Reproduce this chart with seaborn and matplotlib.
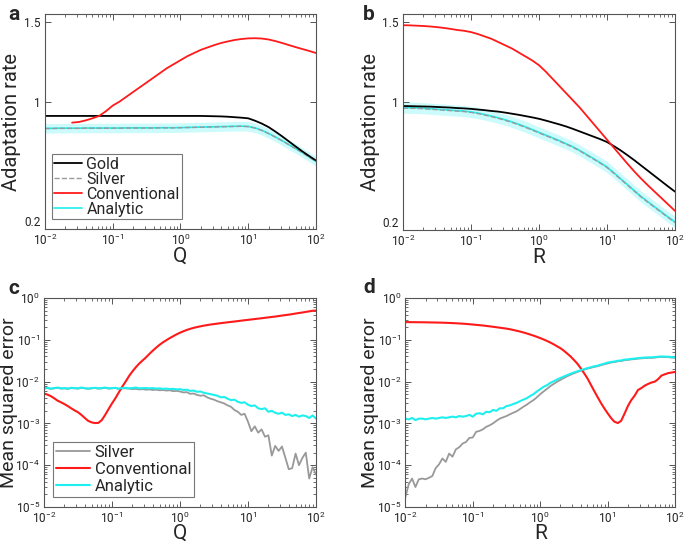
import numpy as np
import matplotlib.pyplot as plt
import seaborn as sns
from matplotlib.ticker import LogLocator, NullFormatter, NullLocator

# parameter sweeps (Q or R), log-spaced
grid_ab = np.logspace(-2, 2, 41)
grid_cd = np.logspace(-2, 2, 81)

# ---- panel a: adaptation rate vs Q ----
gold_a = [0.910, 0.910, 0.910, 0.910, 0.910, 0.910, 0.910, 0.910, 0.910, 0.910,
          0.910, 0.910, 0.910, 0.910, 0.910, 0.910, 0.910, 0.910, 0.910, 0.910,
          0.910, 0.910, 0.910, 0.910, 0.909, 0.908, 0.907, 0.905, 0.902, 0.899,
          0.895, 0.880, 0.862, 0.840, 0.812, 0.782, 0.750, 0.718, 0.687, 0.658,
          0.630]
analytic_a = [0.832, 0.832, 0.833, 0.833, 0.833, 0.833, 0.834, 0.834, 0.834, 0.834,
              0.834, 0.834, 0.835, 0.835, 0.835, 0.835, 0.835, 0.836, 0.836, 0.836,
              0.837, 0.838, 0.839, 0.840, 0.841, 0.842, 0.843, 0.844, 0.845, 0.846,
              0.844, 0.835, 0.820, 0.800, 0.778, 0.755, 0.730, 0.705, 0.680, 0.652,
              0.625]
silver_a = [0.831, 0.831, 0.832, 0.832, 0.832, 0.832, 0.833, 0.833, 0.833, 0.833,
            0.833, 0.833, 0.834, 0.834, 0.834, 0.834, 0.834, 0.835, 0.835, 0.835,
            0.836, 0.837, 0.838, 0.839, 0.840, 0.841, 0.842, 0.843, 0.844, 0.845,
            0.843, 0.834, 0.819, 0.799, 0.777, 0.754, 0.729, 0.704, 0.679, 0.651,
            0.624]
conv_a = [np.nan, np.nan, np.nan, np.nan, 0.868, 0.872, 0.882, 0.895, 0.910, 0.940,
          0.975, 1.000, 1.030, 1.060, 1.090, 1.120, 1.150, 1.180, 1.210, 1.235,
          1.260, 1.285, 1.305, 1.325, 1.340, 1.355, 1.368, 1.378, 1.387, 1.393,
          1.397, 1.398, 1.396, 1.390, 1.380, 1.368, 1.355, 1.342, 1.330, 1.318,
          1.305]
band_a = 0.03

# ---- panel b: adaptation rate vs R ----
gold_b = [0.975, 0.974, 0.973, 0.972, 0.971, 0.969, 0.967, 0.965, 0.962, 0.960,
          0.957, 0.953, 0.949, 0.944, 0.940, 0.934, 0.927, 0.920, 0.912, 0.904,
          0.895, 0.884, 0.872, 0.860, 0.847, 0.832, 0.816, 0.800, 0.784, 0.768,
          0.750, 0.725, 0.698, 0.668, 0.637, 0.604, 0.571, 0.538, 0.505, 0.472,
          0.440]
analytic_b = [0.965, 0.964, 0.963, 0.961, 0.958, 0.955, 0.952, 0.949, 0.946, 0.943,
              0.938, 0.931, 0.922, 0.912, 0.901, 0.889, 0.876, 0.861, 0.845, 0.828,
              0.810, 0.793, 0.776, 0.758, 0.739, 0.720, 0.697, 0.672, 0.647, 0.621,
              0.594, 0.558, 0.521, 0.484, 0.447, 0.410, 0.377, 0.345, 0.313, 0.281,
              0.250]
silver_b = [0.962, 0.961, 0.960, 0.958, 0.955, 0.952, 0.949, 0.946, 0.943, 0.940,
            0.935, 0.928, 0.919, 0.909, 0.898, 0.886, 0.873, 0.858, 0.842, 0.825,
            0.807, 0.790, 0.773, 0.755, 0.736, 0.717, 0.694, 0.669, 0.644, 0.618,
            0.591, 0.555, 0.518, 0.481, 0.444, 0.407, 0.374, 0.342, 0.310, 0.278,
            0.247]
conv_b = [1.480, 1.479, 1.477, 1.475, 1.472, 1.468, 1.463, 1.457, 1.450, 1.445,
          1.437, 1.425, 1.410, 1.395, 1.375, 1.355, 1.335, 1.310, 1.285, 1.260,
          1.230, 1.190, 1.145, 1.100, 1.055, 1.010, 0.965, 0.915, 0.865, 0.815,
          0.765, 0.715, 0.665, 0.615, 0.567, 0.522, 0.480, 0.440, 0.400, 0.360,
          0.320]
band_b = 0.035

# ---- panel c: MSE vs Q ----
silver_c = [6.8e-3, 7.0e-3, 6.7e-3, 6.9e-3, 7.1e-3, 6.8e-3, 6.9e-3, 6.7e-3, 7.0e-3, 6.9e-3,
            6.8e-3, 7.1e-3, 6.9e-3, 6.7e-3, 6.9e-3, 7.0e-3, 6.8e-3, 6.9e-3, 7.1e-3, 6.8e-3,
            6.9e-3, 7.0e-3, 6.7e-3, 6.9e-3, 6.9e-3, 6.8e-3, 6.6e-3, 6.7e-3, 6.5e-3, 6.6e-3,
            6.4e-3, 6.5e-3, 6.3e-3, 6.4e-3, 6.2e-3, 6.3e-3, 6.1e-3, 6.2e-3, 5.9e-3, 6.0e-3,
            5.8e-3, 5.5e-3, 5.6e-3, 5.1e-3, 5.2e-3, 4.8e-3, 4.6e-3, 4.7e-3, 4.2e-3, 3.9e-3,
            3.7e-3, 3.4e-3, 3.2e-3, 3.0e-3, 2.7e-3, 2.5e-3, 2.1e-3, 1.9e-3, 1.6e-3, 1.7e-3,
            1.1e-3, 6.5e-4, 8.5e-4, 6.0e-4, 7.2e-4, 4.8e-4, 5.2e-4, 1.7e-4, 2.9e-4, 2.2e-4,
            2.8e-4, 1.5e-4, 8.0e-5, 8.5e-5, 1.9e-4, 1.0e-4, 1.5e-4, 2.0e-4, 4.8e-5, 9.0e-5,
            6.0e-5]
conv_c = [5.2e-3, 4.9e-3, 4.5e-3, 4.0e-3, 3.5e-3, 3.2e-3, 2.9e-3, 2.6e-3, 2.3e-3, 2.05e-3,
          1.85e-3, 1.6e-3, 1.35e-3, 1.15e-3, 1.06e-3, 1.02e-3, 1.03e-3, 1.2e-3, 1.6e-3, 2.2e-3,
          3.0e-3, 4.0e-3, 5.5e-3, 7.5e-3, 1.0e-2, 1.35e-2, 1.75e-2, 2.2e-2, 2.7e-2, 3.2e-2,
          3.8e-2, 4.6e-2, 5.5e-2, 6.5e-2, 7.6e-2, 8.7e-2, 9.8e-2, 0.110, 0.122, 0.135,
          0.148, 0.160, 0.172, 0.183, 0.193, 0.202, 0.210, 0.218, 0.225, 0.232,
          0.238, 0.244, 0.250, 0.256, 0.262, 0.268, 0.274, 0.280, 0.287, 0.294,
          0.300, 0.307, 0.314, 0.321, 0.328, 0.336, 0.344, 0.352, 0.360, 0.370,
          0.380, 0.390, 0.400, 0.412, 0.425, 0.438, 0.450, 0.465, 0.480, 0.495,
          0.500]
analytic_c = [6.9e-3, 7.1e-3, 6.8e-3, 7.0e-3, 7.2e-3, 6.9e-3, 7.0e-3, 6.8e-3, 7.1e-3, 7.0e-3,
              6.9e-3, 7.2e-3, 7.0e-3, 6.8e-3, 7.0e-3, 7.1e-3, 6.9e-3, 7.0e-3, 7.2e-3, 6.9e-3,
              7.0e-3, 7.1e-3, 6.8e-3, 7.0e-3, 7.1e-3, 6.9e-3, 7.0e-3, 7.2e-3, 6.9e-3, 7.0e-3,
              7.0e-3, 6.9e-3, 7.0e-3, 6.8e-3, 6.9e-3, 6.7e-3, 6.8e-3, 6.6e-3, 6.7e-3, 6.5e-3,
              6.6e-3, 6.3e-3, 6.4e-3, 6.0e-3, 6.1e-3, 5.7e-3, 5.8e-3, 5.4e-3, 5.2e-3, 5.0e-3,
              4.8e-3, 4.6e-3, 4.2e-3, 4.3e-3, 3.9e-3, 3.6e-3, 3.7e-3, 3.3e-3, 3.1e-3, 3.2e-3,
              2.8e-3, 2.6e-3, 2.7e-3, 2.3e-3, 2.2e-3, 2.3e-3, 1.9e-3, 2.0e-3, 1.8e-3, 1.7e-3,
              1.8e-3, 1.6e-3, 1.65e-3, 1.5e-3, 1.6e-3, 1.45e-3, 1.55e-3, 1.5e-3, 1.35e-3, 1.55e-3,
              1.3e-3]

# ---- panel d: MSE vs R ----
silver_d = [1.7e-5, 3.5e-5, 4.8e-5, 3.0e-5, 4.6e-5, 4.8e-5, 4.6e-5, 5.0e-5, 5.5e-5, 8.5e-5,
            1.05e-4, 1.45e-4, 1.2e-4, 1.9e-4, 1.6e-4, 2.4e-4, 2.7e-4, 3.3e-4, 3.6e-4, 4.5e-4,
            4.6e-4, 6.3e-4, 6.6e-4, 7.2e-4, 8.3e-4, 9.0e-4, 1.0e-3, 1.15e-3, 1.3e-3, 1.4e-3,
            1.5e-3, 1.65e-3, 1.8e-3, 1.95e-3, 2.2e-3, 2.5e-3, 2.8e-3, 3.2e-3, 3.6e-3, 4.2e-3,
            5.0e-3, 5.8e-3, 6.7e-3, 7.8e-3, 8.8e-3, 9.9e-3, 1.10e-2, 1.22e-2, 1.34e-2, 1.46e-2,
            1.58e-2, 1.70e-2, 1.82e-2, 1.92e-2, 2.04e-2, 2.14e-2, 2.25e-2, 2.33e-2, 2.47e-2, 2.60e-2,
            2.72e-2, 2.86e-2, 2.93e-2, 3.06e-2, 3.10e-2, 3.25e-2, 3.30e-2, 3.40e-2, 3.45e-2, 3.55e-2,
            3.60e-2, 3.65e-2, 3.70e-2, 3.70e-2, 3.75e-2, 3.85e-2, 3.90e-2, 3.85e-2, 3.85e-2, 3.75e-2,
            3.70e-2]
conv_d = [0.265, 0.265, 0.264, 0.264, 0.263, 0.263, 0.262, 0.261, 0.260, 0.259,
          0.258, 0.257, 0.255, 0.253, 0.251, 0.249, 0.246, 0.243, 0.240, 0.236,
          0.232, 0.228, 0.224, 0.220, 0.215, 0.210, 0.205, 0.200, 0.195, 0.190,
          0.185, 0.179, 0.172, 0.165, 0.158, 0.150, 0.142, 0.134, 0.126, 0.118,
          0.110, 0.102, 0.094, 0.086, 0.078, 0.070, 0.063, 0.055, 0.047, 0.040,
          0.033, 0.027, 0.021, 0.016, 0.012, 8.5e-3, 6.0e-3, 4.3e-3, 3.1e-3, 2.3e-3,
          1.75e-3, 1.35e-3, 1.1e-3, 1.02e-3, 1.15e-3, 1.7e-3, 2.6e-3, 3.6e-3, 4.6e-3, 6.3e-3,
          7.0e-3, 8.0e-3, 8.8e-3, 9.5e-3, 1.0e-2, 1.15e-2, 1.4e-2, 1.5e-2, 1.6e-2, 1.65e-2,
          1.7e-2]
analytic_d = [1.3e-3, 1.25e-3, 1.35e-3, 1.2e-3, 1.3e-3, 1.3e-3, 1.25e-3, 1.3e-3, 1.35e-3, 1.3e-3,
              1.35e-3, 1.4e-3, 1.35e-3, 1.4e-3, 1.45e-3, 1.4e-3, 1.5e-3, 1.45e-3, 1.5e-3, 1.6e-3,
              1.45e-3, 1.7e-3, 1.75e-3, 1.65e-3, 1.9e-3, 1.85e-3, 2.1e-3, 2.0e-3, 2.3e-3, 2.3e-3,
              2.6e-3, 2.7e-3, 2.9e-3, 3.1e-3, 3.4e-3, 3.7e-3, 4.0e-3, 4.5e-3, 5.0e-3, 5.8e-3,
              6.6e-3, 7.5e-3, 8.2e-3, 9.3e-3, 1.02e-2, 1.12e-2, 1.22e-2, 1.32e-2, 1.43e-2, 1.54e-2,
              1.65e-2, 1.76e-2, 1.88e-2, 1.98e-2, 2.10e-2, 2.20e-2, 2.32e-2, 2.40e-2, 2.55e-2, 2.68e-2,
              2.85e-2, 2.95e-2, 3.02e-2, 3.15e-2, 3.20e-2, 3.35e-2, 3.40e-2, 3.50e-2, 3.55e-2, 3.65e-2,
              3.70e-2, 3.75e-2, 3.80e-2, 3.80e-2, 3.85e-2, 3.95e-2, 4.00e-2, 3.95e-2, 3.95e-2, 3.85e-2,
              3.80e-2]

RED = "#FF1A1A"
CYAN = "#1EEFEF"
GRAY = "#999999"
AXCOL = "#555555"

sns.set_style("ticks")
plt.rcParams["font.family"] = ["Roboto", "DejaVu Sans"]
plt.rcParams["mathtext.fontset"] = "custom"
plt.rcParams["mathtext.rm"] = "Roboto"
plt.rcParams["mathtext.it"] = "Roboto:italic"
plt.rcParams["mathtext.bf"] = "Roboto:bold"
plt.rcParams["axes.unicode_minus"] = False


def style_axes(ax):
    for s in ax.spines.values():
        s.set_visible(True)
        s.set_color(AXCOL)
        s.set_linewidth(0.8)
    ax.tick_params(which="both", direction="in", top=True, right=True,
                   color=AXCOL, labelcolor="#222222", labelsize=8.5, pad=3)
    ax.tick_params(which="major", length=4, width=0.7)
    ax.tick_params(which="minor", length=2, width=0.6)
    ax.set_xscale("log")
    ax.set_xlim(1e-2, 1e2)
    ax.xaxis.set_major_locator(LogLocator(base=10, numticks=10))
    ax.xaxis.set_minor_locator(LogLocator(base=10, subs=np.arange(2, 10), numticks=10))
    ax.xaxis.set_minor_formatter(NullFormatter())


def set_labels(ax, xlabel, ylabel, xoff, yx, ysize):
    ax.set_xlabel(xlabel, fontsize=15)
    ax.xaxis.label.set_va("center")
    ax.xaxis.set_label_coords(0.5, xoff)
    ax.set_ylabel(ylabel, fontsize=ysize)
    ax.yaxis.label.set_va("center")
    ax.yaxis.set_label_coords(yx, 0.5)


def rate_panel(ax, grid, gold, silver, conv, analytic, band, xlabel, yx, with_legend):
    lo = np.array(analytic) - band
    hi = np.array(analytic) + band
    ax.fill_between(grid, lo, hi, color=CYAN, alpha=0.22, lw=0)
    sns.lineplot(x=grid, y=analytic, color=CYAN, lw=1.2, ax=ax, label="Analytic")
    sns.lineplot(x=grid, y=silver, color=GRAY, lw=1.0, ls="--", ax=ax, label="Silver")
    sns.lineplot(x=grid, y=gold, color="black", lw=1.3, ax=ax, label="Gold")
    sns.lineplot(x=grid, y=conv, color=RED, lw=1.3, ax=ax, label="Conventional")
    style_axes(ax)
    ax.set_ylim(0.2, 1.55)
    ax.set_yticks([0.2, 1, 1.5])
    ax.set_yticklabels(["0.2", "1", "1.5"])
    ax.get_yticklabels()[0].set_va("bottom")   # 0.2 sits just above the corner
    ax.yaxis.set_minor_locator(NullLocator())
    set_labels(ax, xlabel, "Adaptation rate", -0.128, yx, 14.5)
    handles, labels = ax.get_legend_handles_labels()
    ax.get_legend().remove()
    if with_legend:
        order = ["Gold", "Silver", "Conventional", "Analytic"]
        hmap = dict(zip(labels, handles))
        leg = ax.legend([hmap[k] for k in order], order, loc="lower left",
                        bbox_to_anchor=(0.026, 0.047), borderaxespad=0,
                        fontsize=11.5, frameon=True, fancybox=False,
                        edgecolor="#777777", framealpha=1, handlelength=1.7,
                        handletextpad=0.3, labelspacing=0.0, borderpad=0.15)
        leg.get_frame().set_linewidth(0.8)


def mse_panel(ax, grid, silver, conv, analytic, xlabel, yx, with_legend):
    sns.lineplot(x=grid, y=silver, color=GRAY, lw=1.3, ax=ax, label="Silver")
    sns.lineplot(x=grid, y=conv, color=RED, lw=1.5, ax=ax, label="Conventional")
    sns.lineplot(x=grid, y=analytic, color=CYAN, lw=1.5, ax=ax, label="Analytic")
    style_axes(ax)
    ax.set_yscale("log")
    ax.set_ylim(1e-5, 1)
    ax.yaxis.set_major_locator(LogLocator(base=10, numticks=10))
    ax.yaxis.set_minor_locator(LogLocator(base=10, subs=np.arange(2, 10), numticks=10))
    ax.yaxis.set_minor_formatter(NullFormatter())
    set_labels(ax, xlabel, "Mean squared error", -0.127, yx, 14)
    if with_legend:
        leg = ax.legend(loc="lower left", bbox_to_anchor=(0.033, 0.048), borderaxespad=0,
                        fontsize=12, frameon=True, fancybox=False,
                        edgecolor="#777777", framealpha=1, handlelength=2.0,
                        handletextpad=0.3, labelspacing=0.1, borderpad=0.2)
        leg.get_frame().set_linewidth(0.8)
    else:
        ax.get_legend().remove()


fig = plt.figure(figsize=(6.85, 5.45), dpi=100)
ax_a = fig.add_axes([0.0657, 0.5798, 0.3956, 0.3945])
ax_b = fig.add_axes([0.5883, 0.5780, 0.3970, 0.3963])
ax_c = fig.add_axes([0.0642, 0.0697, 0.3971, 0.3835])
ax_d = fig.add_axes([0.5917, 0.0697, 0.3938, 0.3835])

rate_panel(ax_a, grid_ab, gold_a, silver_a, conv_a, analytic_a, band_a, "Q", -0.125, True)
rate_panel(ax_b, grid_ab, gold_b, silver_b, conv_b, analytic_b, band_b, "R", -0.121, False)
mse_panel(ax_c, grid_cd, silver_c, conv_c, analytic_c, "Q", -0.128, True)
mse_panel(ax_d, grid_cd, silver_d, conv_d, analytic_d, "R", -0.13, False)

for letter, (fx, fy) in zip("abcd", [(0.012, 0.974), (0.530, 0.974),
                                     (0.012, 0.470), (0.530, 0.472)]):
    fig.text(fx, fy, letter, fontsize=15, fontweight="bold", ha="left", va="center")

plt.savefig("out.png", dpi=100)
plt.close()
